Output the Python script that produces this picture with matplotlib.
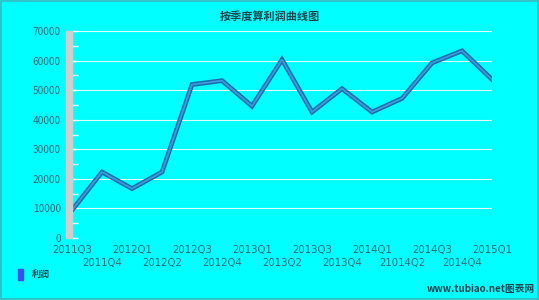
import matplotlib.pyplot as plt
from matplotlib.patches import Rectangle

plt.rcParams['font.family'] = ['Noto Sans CJK SC', 'DejaVu Sans']

quarters = ['2011Q3', '2011Q4', '2012Q1', '2012Q2', '2012Q3', '2012Q4',
            '2013Q1', '2013Q2', '2013Q3', '2013Q4', '2014Q1', '21014Q2',
            '2014Q3', '2014Q4', '2015Q1']
profit = [9400, 22300, 16700, 22300, 51900, 53200, 44600, 60300,
          42600, 50500, 42600, 47200, 59200, 63300, 53600]
yticks = [0, 10000, 20000, 30000, 40000, 50000, 60000, 70000]

bg = '#00ffff'
txt = '#2a6c78'

fig = plt.figure(figsize=(5.39, 3.0), dpi=100, facecolor=bg)
ax = fig.add_axes([72/539, 62/300, 420/539, 207/300])
ax.set_facecolor(bg)

# grey wall on the left of the plot
fig.patches.append(Rectangle((66/539, 62/300), 6/539, 207/300,
                             transform=fig.transFigure, color='#cfcfcf', zorder=1))
# outer border
fig.patches.append(Rectangle((0.001, 0.002), 0.997, 0.995, transform=fig.transFigure,
                             fill=False, edgecolor='#3cb8c0', lw=1.2))

x = list(range(len(quarters)))
ax.plot(x, profit, color='#1a6cae', lw=3.4, solid_joinstyle='miter', zorder=3)
ax.plot(x, profit, color='#3b9ad8', lw=1.3, solid_joinstyle='miter', zorder=4)

ax.set_xlim(0, len(quarters) - 1)
ax.set_ylim(0, 70000)
ax.set_yticks(yticks)
ax.set_yticklabels([str(v) for v in yticks], fontsize=7.3, color=txt)
ax.set_yticks(range(5000, 70000, 10000), minor=True)
ax.tick_params(axis='y', which='both', length=4, color='white', width=1, pad=8,
               direction='in')
ax.grid(axis='y', color='#d8ffff', lw=0.8)
ax.set_axisbelow(True)
for s in ax.spines.values():
    s.set_visible(False)

ax.set_xticks(x)
ax.set_xticklabels([])
ax.tick_params(axis='x', length=0)
for i, q in enumerate(quarters):
    ax.annotate(q, xy=(i, 0), xycoords=('data', 'axes fraction'),
                xytext=(0, -12 if i % 2 == 0 else -25), textcoords='offset pixels',
                ha='center', va='center', fontsize=7.3, color=txt, family='DejaVu Sans')

fig.text(270/539, 1 - 16/300, '按季度算利润曲线图', ha='center', va='center',
         fontsize=8, color='#1f4650', fontweight='bold')

fig.patches.append(Rectangle((18/539, 1 - 280/300), 5/539, 11/300,
                             transform=fig.transFigure, color='#3a4ff0'))
fig.text(32/539, 1 - 274/300, '利润', ha='left', va='center', fontsize=6.5,
         color='#1f4650', fontweight='bold')

fig.text(535/539, 1 - 289/300, 'www.tubiao.net图表网', ha='right', va='center',
         fontsize=7, color='#1f4650', fontweight='bold')

fig.savefig('out.png', dpi=100, facecolor=bg)
